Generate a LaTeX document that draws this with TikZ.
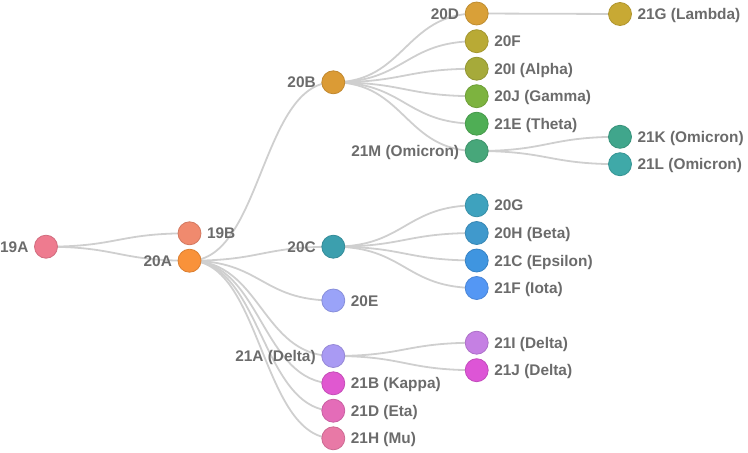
\documentclass[tikz,border=0pt]{standalone}
\usepackage{fontspec}
\setmainfont{Liberation Sans}
\usetikzlibrary{calc,backgrounds}
\definecolor{txt}{HTML}{6B6B6B}
\definecolor{lk}{HTML}{CFCFCF}
\definecolor{c19A}{HTML}{EE7B8F}
\definecolor{c19B}{HTML}{F08A6E}
\definecolor{c20A}{HTML}{F9923A}
\definecolor{c20B}{HTML}{DB9B35}
\definecolor{c20D}{HTML}{D9A038}
\definecolor{c21G}{HTML}{C8A934}
\definecolor{c20F}{HTML}{B9AA35}
\definecolor{c20I}{HTML}{A6AA3A}
\definecolor{c20J}{HTML}{7DB33F}
\definecolor{c21E}{HTML}{4FAE55}
\definecolor{c21M}{HTML}{47A77A}
\definecolor{c21K}{HTML}{40A68C}
\definecolor{c21L}{HTML}{3FA9A8}
\definecolor{c20C}{HTML}{3C9FAE}
\definecolor{c20G}{HTML}{3EA2BE}
\definecolor{c20H}{HTML}{4099CC}
\definecolor{c21C}{HTML}{3F95E0}
\definecolor{c21F}{HTML}{5497F4}
\definecolor{c20E}{HTML}{9AA3F8}
\definecolor{c21A}{HTML}{A99AF3}
\definecolor{c21I}{HTML}{C580E3}
\definecolor{c21J}{HTML}{DD55D6}
\definecolor{c21B}{HTML}{E058D0}
\definecolor{c21D}{HTML}{E46CB8}
\definecolor{c21H}{HTML}{E879A6}
\newcommand\lnk[2]{\draw[link] let \p1=(#1.center), \p2=(#2.center) in (\p1) .. controls ({(\x1+\x2)/2},\y1) and ({(\x1+\x2)/2},\y2) .. (\p2);}
\begin{document}
\begin{tikzpicture}[x=1pt,y=-1pt,
  nd/.style={circle, minimum size=23pt, inner sep=0pt, fill=#1, draw=#1!88!black, line width=0.8pt},
  lbl/.style={text=txt, inner sep=0pt, text height=11pt, text depth=0pt, font=\fontsize{15.4}{18}\selectfont\bfseries},
  L/.style={label={[lbl,label distance=5.5pt]left:#1}},
  R/.style={label={[lbl,label distance=5.5pt]right:#1}},
  link/.style={draw=lk, line width=1.8pt}]
\useasboundingbox (0,0) rectangle (748,453);
\node[nd=c19A,L=19A] (n19A) at (46,246.7) {};
\node[nd=c19B,R=19B] (n19B) at (189.5,233.3) {};
\node[nd=c20A,L=20A] (n20A) at (189.5,260.7) {};
\node[nd=c20B,L=20B] (n20B) at (333.3,82.3) {};
\node[nd=c20C,L=20C] (n20C) at (333.3,246.7) {};
\node[nd=c20E,R=20E] (n20E) at (333.3,300.5) {};
\node[nd=c21A,L={21A (Delta)}] (n21A) at (333.3,356) {};
\node[nd=c21B,R={21B (Kappa)}] (n21B) at (333.3,383.3) {};
\node[nd=c21D,R={21D (Eta)}] (n21D) at (333.3,410.7) {};
\node[nd=c21H,R={21H (Mu)}] (n21H) at (333.3,438.3) {};
\node[nd=c20D,L=20D] (n20D) at (476.7,13.5) {};
\node[nd=c20F,R=20F] (n20F) at (476.7,41.2) {};
\node[nd=c20I,R={20I (Alpha)}] (n20I) at (476.7,68.7) {};
\node[nd=c20J,R={20J (Gamma)}] (n20J) at (476.7,96.2) {};
\node[nd=c21E,R={21E (Theta)}] (n21E) at (476.7,123.7) {};
\node[nd=c21M,L={21M (Omicron)}] (n21M) at (476.7,151) {};
\node[nd=c21G,R={21G (Lambda)}] (n21G) at (620,14) {};
\node[nd=c21K,R={21K (Omicron)}] (n21K) at (620,136.8) {};
\node[nd=c21L,R={21L (Omicron)}] (n21L) at (620,164.2) {};
\node[nd=c20G,R=20G] (n20G) at (476.7,205.3) {};
\node[nd=c20H,R={20H (Beta)}] (n20H) at (476.7,233) {};
\node[nd=c21C,R={21C (Epsilon)}] (n21C) at (476.7,260.5) {};
\node[nd=c21F,R={21F (Iota)}] (n21F) at (476.7,288) {};
\node[nd=c21I,R={21I (Delta)}] (n21I) at (476.7,342.7) {};
\node[nd=c21J,R={21J (Delta)}] (n21J) at (476.7,370.2) {};
\begin{scope}[on background layer]
\lnk{n19A}{n19B}
\lnk{n19A}{n20A}
\lnk{n20A}{n20B}
\lnk{n20A}{n20C}
\lnk{n20A}{n20E}
\lnk{n20A}{n21A}
\lnk{n20A}{n21B}
\lnk{n20A}{n21D}
\lnk{n20A}{n21H}
\lnk{n20B}{n20D}
\lnk{n20B}{n20F}
\lnk{n20B}{n20I}
\lnk{n20B}{n20J}
\lnk{n20B}{n21E}
\lnk{n20B}{n21M}
\lnk{n20D}{n21G}
\lnk{n21M}{n21K}
\lnk{n21M}{n21L}
\lnk{n20C}{n20G}
\lnk{n20C}{n20H}
\lnk{n20C}{n21C}
\lnk{n20C}{n21F}
\lnk{n21A}{n21I}
\lnk{n21A}{n21J}
\end{scope}
\end{tikzpicture}
\end{document}
